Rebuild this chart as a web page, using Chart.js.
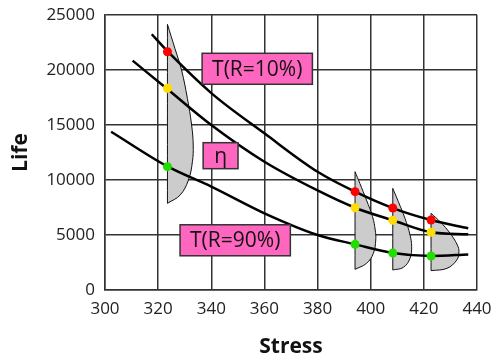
<!DOCTYPE html>
<html>
<head>
<meta charset="utf-8">
<script src="https://cdn.jsdelivr.net/npm/chart.js@4.4.1/dist/chart.umd.min.js"></script>
<style>
  body { margin: 0; background: #fff; }
  #wrap { width: 500px; height: 364px; }
</style>
</head>
<body>
<div id="wrap"><canvas id="lifeChart"></canvas></div>
<script>
// life-stress curves
const r10Stress = [317.6, 323.7, 340, 360, 380, 394.1, 408.3, 422.7, 436.7];
const r10Life   = [23250, 21660, 17900, 14240, 10750, 8940, 7450, 6360, 5610];
const etaStress = [310.4, 323.1, 340, 360, 380, 394.1, 408.3, 422.7, 436.7];
const etaLife   = [20850, 18340, 15000, 11660, 9050, 7480, 6340, 5250, 5060];
const r90Stress = [302.3, 323.7, 340, 360, 380, 394.1, 408.3, 422.7, 436.7];
const r90Life   = [14390, 11210, 9400, 6970, 5000, 4150, 3360, 3090, 3230];

// test stress levels and the coloured points on them
const testStress = [323.5, 394.1, 408.3, 422.7];
const redLife    = [21660, 8940, 7450, 6360];
const yellowLife = [18340, 7480, 6340, 5250];
const greenLife  = [11210, 4150, 3360, 3090];

// life distributions at each stress level: top, bottom and the bulging edge
const pdfTop    = [24150, 10755, 9240, 6970];
const pdfBottom = [7880, 1880, 1820, 1760];
const pdfEdgeStress = [
  [326.3, 328.8, 331.0, 332.6, 333.2, 332.9, 331.4, 328.3],
  [395.9, 398.4, 400.7, 401.7, 401.9, 401.0, 398.4],
  [410.4, 412.9, 414.8, 415.4, 414.8, 412.3],
  [426.1, 429.9, 432.6, 433.2, 432.4, 428.7]
];
const pdfEdgeLife = [
  [21970, 20000, 17430, 15000, 13180, 11660, 10000, 8640],
  [9700, 8180, 6660, 5450, 4550, 3330, 2420],
  [8030, 6510, 5000, 3940, 2880, 2060],
  [6210, 5150, 4090, 3480, 2730, 1970]
];

// curve labels
const labelText   = ['T(R=10%)', 'η', 'T(R=90%)'];
const labelStress = [357.3, 343.5, 349.0];
const labelLife   = [20110, 12210, 4520];

const xy = (xs, ys) => xs.map((x, i) => ({ x: x, y: ys[i] }));

const datasets = [];

['#ff0000', '#ffdd00', '#22dd00'].forEach((c, k) => {
  datasets.push({
    data: xy(testStress, [redLife, yellowLife, greenLife][k]),
    showLine: false,
    pointRadius: 4.5,
    pointBorderWidth: 0,
    pointBackgroundColor: c,
    order: 0
  });
});

[[r10Stress, r10Life], [etaStress, etaLife], [r90Stress, r90Life]].forEach(c => {
  datasets.push({
    data: xy(c[0], c[1]),
    showLine: true,
    borderColor: '#000',
    borderWidth: 2.5,
    pointRadius: 0,
    cubicInterpolationMode: 'monotone',
    fill: false,
    order: 1
  });
});

testStress.forEach((s, i) => {
  const top = { x: s, y: pdfTop[i] };
  const bot = { x: s, y: pdfBottom[i] };
  // tips doubled so the spline keeps them sharp
  const pts = [top, top].concat(xy(pdfEdgeStress[i], pdfEdgeLife[i]), [bot, bot, top, top]);
  datasets.push({
    data: pts,
    showLine: true,
    borderColor: '#111',
    borderWidth: 1,
    backgroundColor: '#cccccc',
    pointRadius: 0,
    tension: 0.4,
    fill: 'shape',
    order: 2
  });
});

const boxLabels = {
  id: 'boxLabels',
  afterDatasetsDraw(chart) {
    const ctx = chart.ctx;
    const xs = chart.scales.x, ys = chart.scales.y;
    ctx.save();
    ctx.font = '21px "Open Sans", sans-serif';
    ctx.textAlign = 'center';
    ctx.textBaseline = 'middle';
    labelText.forEach((t, i) => {
      const cx = xs.getPixelForValue(labelStress[i]);
      const cy = ys.getPixelForValue(labelLife[i]);
      const w = ctx.measureText(t).width + (t.length > 1 ? 20 : 22);
      const h = t.length > 1 ? 31 : 26;
      ctx.fillStyle = '#ff66bf';
      ctx.fillRect(cx - w / 2, cy - h / 2, w, h);
      ctx.strokeStyle = '#333';
      ctx.lineWidth = 1.5;
      ctx.strokeRect(cx - w / 2, cy - h / 2, w, h);
      ctx.fillStyle = '#111';
      ctx.fillText(t, cx, cy + 1);
    });
    ctx.restore();
  }
};

const tickFont = { family: '"Open Sans", sans-serif', size: 17 };
const titleFont = { family: '"Open Sans", sans-serif', size: 21, weight: 'bold' };
const plain = v => String(v);

new Chart(document.getElementById('lifeChart'), {
  type: 'scatter',
  data: { datasets: datasets },
  options: {
    responsive: true,
    maintainAspectRatio: false,
    animation: false,
    layout: { padding: { top: 15, right: 23, left: 0, bottom: 0 } },
    plugins: { legend: { display: false }, tooltip: { enabled: false } },
    scales: {
      x: {
        type: 'linear',
        min: 300,
        max: 440,
        ticks: { stepSize: 20, font: tickFont, color: '#222', padding: 9, callback: plain },
        grid: { color: '#333', lineWidth: 1.5, drawTicks: false },
        border: { color: '#333', width: 1.5 },
        title: { display: true, text: 'Stress', font: titleFont, color: '#111', padding: { top: 12 } },
        afterFit: s => { s.height = 74; s.paddingLeft = 0; s.paddingRight = 0; }
      },
      y: {
        min: 0,
        max: 25000,
        ticks: { stepSize: 5000, font: tickFont, color: '#222', padding: 10, callback: plain },
        grid: { color: '#333', lineWidth: 1.5, drawTicks: false },
        border: { color: '#333', width: 1.5 },
        title: { display: true, text: 'Life', font: titleFont, color: '#111', padding: { top: 8, bottom: 6 } },
        afterFit: s => { s.width = 105; s.paddingTop = 0; s.paddingBottom = 0; }
      }
    }
  },
  plugins: [boxLabels]
});
</script>
</body>
</html>
